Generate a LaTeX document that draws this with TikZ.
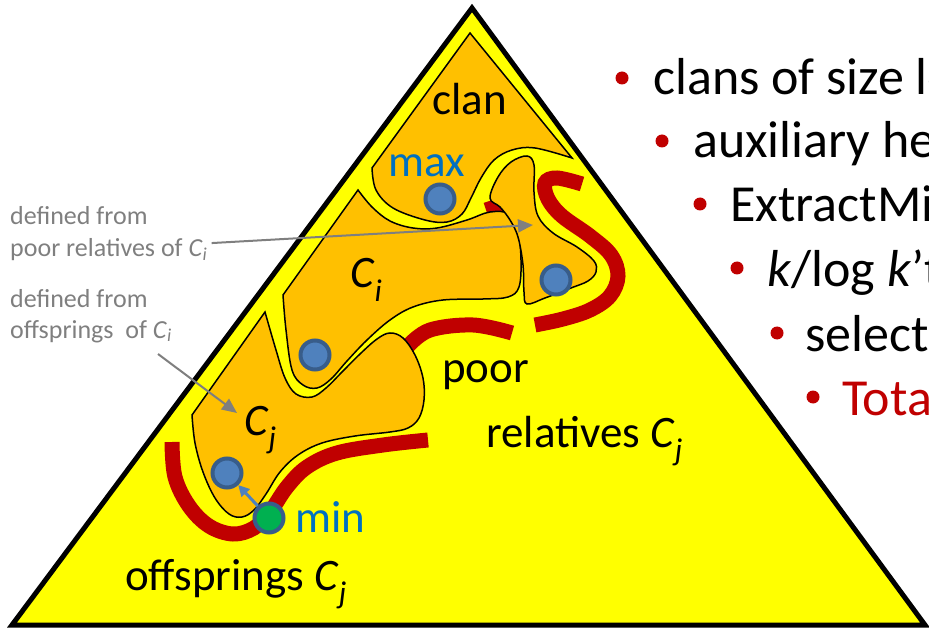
\documentclass[tikz,border=0pt]{standalone}
\usepackage{fontspec}
\setmainfont{Carlito}
\usetikzlibrary{arrows.meta}

\definecolor{triyellow}{HTML}{FFFF00}
\definecolor{clanorange}{HTML}{FFC000}
\definecolor{darkred}{HTML}{C00000}
\definecolor{dotblue}{HTML}{4F81BD}
\definecolor{dotedge}{HTML}{385D8A}
\definecolor{mingreen}{HTML}{00B050}
\definecolor{textblue}{HTML}{0070C0}
\definecolor{notegray}{HTML}{7F7F7F}

\newcommand{\Csub}[1]{\textit{C}\textsubscript{\textit{#1}}}

\begin{document}
\begin{tikzpicture}[x=1pt,y=-1pt,
  region/.style={fill=clanorange,draw=black,line width=1.5pt},
  redband/.style={draw=darkred,line width=15pt},
  heapdot/.style={circle,fill=dotblue,draw=dotedge,line width=4pt,minimum size=29pt,inner sep=0pt},
  biglbl/.style={font=\fontsize{45}{54}\selectfont,inner sep=0pt,anchor=base west},
  notelbl/.style={font=\fontsize{26}{31}\selectfont,text=notegray,inner sep=0pt,anchor=base west},
  itemtxt/.style={font=\fontsize{52}{62}\selectfont,inner sep=0pt,anchor=base west},
  redbullet/.style={circle,fill=darkred,minimum size=13pt,inner sep=0pt},
  notearrow/.style={draw=notegray,line width=2pt,-{Triangle[length=15pt,width=13pt]}},
  bluearrow/.style={draw=dotblue,line width=3pt,-{Triangle[length=11pt,width=11pt]}}]
  \useasboundingbox (0,0) rectangle (929,628);
  \clip (0,0) rectangle (929,628);

  % heap triangle
  \draw[fill=triyellow,draw=black,line width=5pt,line join=miter] (472,8) -- (12,625) -- (925,625) -- cycle;

  % red boundaries (below the regions)
  \draw[redband] (486,210) -- (504,204);
  \draw[redband] plot[smooth,tension=0.6] coordinates {(408,346) (430,330) (473,325) (512,333)};
  \draw[redband] plot[smooth,tension=0.6] coordinates {(582,184) (557,178) (545,183) (548,199) (562,216) (590,236) (611,255) (618,276) (610,296) (590,310) (563,319) (535,325)};
  \draw[redband] plot[smooth,tension=0.6] coordinates {(172,442) (175,477) (189,506) (209,526) (233,534) (254,528) (270,512) (287,487) (307,467) (337,453) (383,445) (428,440)};

  % clan
  \draw[region] (470,33) -- (372,168) -- plot[smooth,tension=0.6] coordinates {(372,168) (376,190) (393,208) (425,220) (447,222) (462,214) (471,198) (481,178) (494,160) (512,150) (535,148) (572,158)} -- cycle;
  % C_i
  \draw[region] (358,190) -- (283,295) -- plot[smooth,tension=0.6] coordinates {(283,295) (286,330) (292,370) (303,385) (317,388) (331,379) (347,361) (367,340) (390,320) (413,307) (443,300) (483,299) (508,297) (519,287) (521,260) (518,230) (510,214) (490,212) (467,220) (437,228) (413,228) (390,221) (372,207) (358,190)} -- cycle;
  % C_j
  \draw[region] (265,312) -- (192,415) -- plot[smooth,tension=0.6] coordinates {(192,415) (195,443) (203,472) (215,498) (229,514) (242,517) (254,510) (266,494) (280,472) (298,455) (322,443) (355,436) (390,432) (408,428) (419,418) (424,400) (423,378) (415,355) (403,338) (390,333) (377,339) (360,354) (342,372) (326,388) (312,397) (296,394) (285,378) (276,350) (265,312)} -- cycle;
  % poor relatives of C_i
  \draw[region] plot[smooth cycle,tension=0.6] coordinates {(490,198) (498,177) (511,162) (527,156) (534,165) (534,192) (538,216) (553,233) (577,247) (594,261) (596,272) (588,281) (571,288) (545,298) (527,304) (524,292) (523,265) (518,237) (510,220) (500,207)};

  % heap elements
  \node[heapdot] (maxdot) at (440,199) {};
  \node[heapdot] (cidot) at (315,355) {};
  \node[heapdot] (cjdot) at (227,473) {};
  \node[heapdot] (prdot) at (556,280) {};
  \node[heapdot,fill=mingreen] (mindot) at (269,518) {};
  \draw[bluearrow] (mindot) -- (cjdot);

  % labels in the heap
  \node[biglbl] (clanlbl) at (432,115) {clan};
  \node[biglbl,text=textblue] (maxlbl) at (388,177) {max};
  \node[biglbl,text=textblue] (minlbl) at (295,532) {min};
  \node[biglbl] (cilbl) at (350,288) {\Csub{i}};
  \node[biglbl] (cjlbl) at (244,435) {\Csub{j}};
  \node[biglbl] (poorlbl) at (442,382) {poor};
  \node[biglbl] (rellbl) at (486,447) {relatives \Csub{j}};
  \node[biglbl] (offlbl) at (125,590) {offsprings \Csub{j}};

  % notes on the left
  \node[notelbl] (note1a) at (10,225) {defined from};
  \node[notelbl] (note1b) at (10,257) {poor relatives of \Csub{i}};
  \node[notelbl] (note2a) at (10,308) {defined from};
  \node[notelbl] (note2b) at (10,338) {offsprings\ \ of \Csub{i}};
  \coordinate (prtip) at (533,225);
  \coordinate (cjtip) at (237,413);
  \coordinate (offfrom) at (158,354);
  \draw[notearrow] ([xshift=4pt,yshift=7pt]note1b.east) -- (prtip);
  \draw[notearrow] (offfrom) -- (cjtip);

  % bullet list
  \node[redbullet] (b1) at (622,78) {};
  \node[redbullet] (b2) at (662,141) {};
  \node[redbullet] (b3) at (700,204) {};
  \node[redbullet] (b4) at (737,268) {};
  \node[redbullet] (b5) at (777,333) {};
  \node[redbullet] (b6) at (813,397) {};
  \node[itemtxt] (item1) at (653,95) {clans of size log};
  \node[itemtxt] (item2) at (693,158) {auxiliary heap};
  \node[itemtxt] (item3) at (730,222) {ExtractMin};
  \node[itemtxt] (item4) at (767,287) {\textit{k}/log \textit{k}’times};
  \node[itemtxt] (item5) at (805,352) {select};
  \node[itemtxt,text=darkred] (item6) at (842,415) {Total};
\end{tikzpicture}
\end{document}
